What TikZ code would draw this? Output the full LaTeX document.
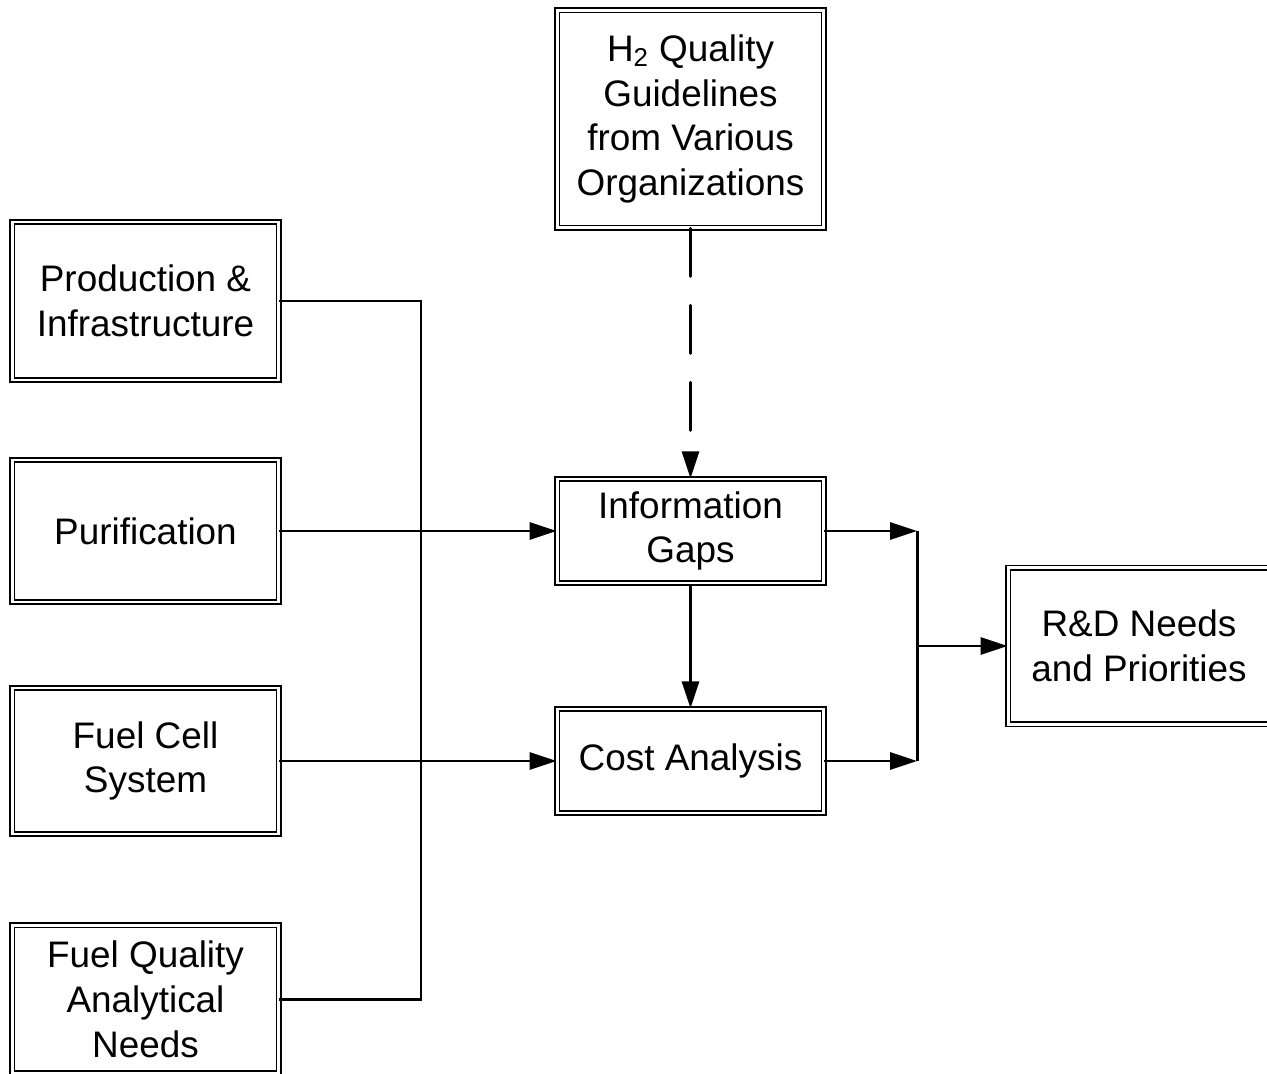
\documentclass[tikz,border=0pt]{standalone}
\usepackage{fontspec}
\setmainfont{Liberation Sans}
\usetikzlibrary{arrows.meta,calc}

\begin{document}
\begin{tikzpicture}
\tikzset{node distance=46mm, >={Triangle[length=5.4mm,width=3.4mm]},
    block/.style={rectangle, draw, double, line width=0.8pt, double distance=1.7pt,
        minimum width=53.3mm, align=center, font=\fontsize{21pt}{25.5pt}\selectfont},
    link/.style={line width=1.7pt},
    guide/.style={link, dash pattern=on 9.6mm off 5.8mm, line cap=round}
}
  \useasboundingbox (0,0) rectangle (253.4mm,-214.8mm);

  \node[block, minimum height=31.6mm] (prod) at (29.1mm,-60.2mm) {Production \&\\Infrastructure};
  \node[block, minimum height=28.4mm, below of=prod] (purif) {Purification};
  \node[block, minimum height=29.2mm, below of=purif] (fuelcell) {Fuel Cell\\System};
  \node[block, minimum height=29.6mm, below of=fuelcell, node distance=47.6mm] (fuelq) {Fuel Quality\\Analytical\\Needs};
  \node[block, minimum height=20.8mm, right of=purif, node distance=109mm] (info) {Information\\Gaps};
  \node[block, minimum height=43.5mm, above of=info, node distance=82.4mm] (h2) {H\textsubscript{2} Quality\\Guidelines\\from Various\\Organizations};
  \node[block, minimum height=20.8mm, below of=info] (cost) {Cost Analysis};
  \node[coordinate, right of=prod, node distance=55.1mm] (bus) {};
  \node[coordinate, right of=info, node distance=45.3mm] (j1) {};
  \node[coordinate, right of=cost, node distance=45.3mm] (j2) {};
  \coordinate (jmid) at ($(j1)!0.5!(j2)$);
  \node[block, minimum width=52.3mm, minimum height=31.3mm, right of=jmid, node distance=44.4mm] (rd) {R\&D Needs\\and Priorities};

  \draw[link] (prod) -- (bus) |- (fuelq);
  \draw[link, ->] (purif) -- (info);
  \draw[link, ->] (fuelcell) -- (cost);
  \draw[guide, ->] (h2) -- (info);
  \draw[link, ->] (info) -- (cost);
  \draw[link, ->] (info) -- (j1);
  \draw[link, ->] (cost) -- (j2);
  \draw[link] (j1) -- (j2);
  \draw[link, ->] (jmid) -- (rd);
\end{tikzpicture}
\end{document}
